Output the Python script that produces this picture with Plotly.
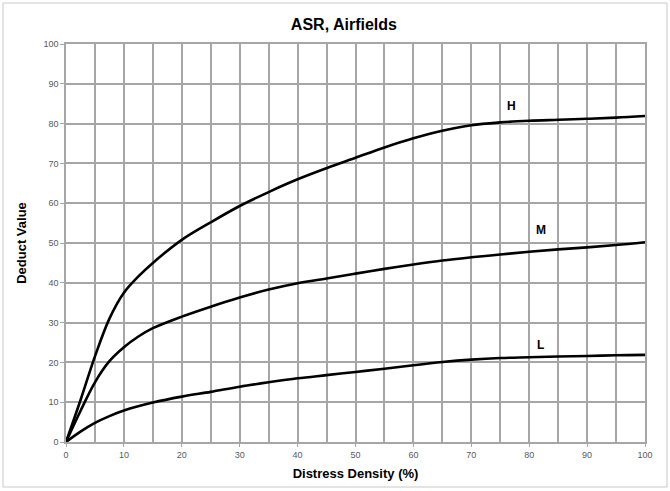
import plotly.graph_objects as go

# Deduct value curves for ASR (alkali-silica reaction) on airfield pavements
density_h = [0, 2.5, 5, 7.5, 10, 12.5, 15, 20, 25, 30, 35, 40, 45, 50, 55, 60, 65, 70, 75, 80, 85, 90, 95, 100]
deduct_h = [0, 10.5, 21.5, 31, 37.5, 41.6, 45, 50.8, 55.2, 59.3, 62.8, 66, 68.8, 71.4, 74, 76.3, 78.2, 79.6, 80.3, 80.7, 80.95, 81.2, 81.5, 81.9]

density_m = [0, 2.5, 5, 7.5, 10, 12.5, 15, 20, 25, 30, 35, 40, 45, 50, 55, 60, 65, 70, 75, 80, 85, 90, 95, 100]
deduct_m = [0, 7.8, 15, 20.3, 23.8, 26.5, 28.6, 31.5, 34, 36.3, 38.3, 39.9, 41.1, 42.3, 43.5, 44.6, 45.6, 46.4, 47.1, 47.8, 48.4, 48.9, 49.5, 50.2]

density_l = [0, 2.5, 5, 7.5, 10, 15, 20, 25, 30, 35, 40, 45, 50, 55, 60, 65, 70, 75, 80, 85, 90, 95, 100]
deduct_l = [0, 2.6, 4.8, 6.5, 7.9, 9.9, 11.4, 12.6, 13.9, 15, 16, 16.8, 17.6, 18.4, 19.3, 20.1, 20.7, 21.1, 21.3, 21.5, 21.6, 21.8, 21.9]

severity_labels = ["H", "M", "L"]
label_x = [77, 82, 82]
label_y = [84.5, 53.2, 24.4]

x_ticks = list(range(0, 101, 10))
y_ticks = list(range(0, 101, 10))

fig = go.Figure()
for xs, ys in [(density_h, deduct_h), (density_m, deduct_m), (density_l, deduct_l)]:
    fig.add_trace(go.Scatter(
        x=xs, y=ys, mode="lines", line_shape="spline",
        line=dict(color="black", width=2.6, smoothing=1.0),
        showlegend=False, hoverinfo="skip",
    ))

for txt, lx, ly in zip(severity_labels, label_x, label_y):
    fig.add_annotation(x=lx, y=ly, text=f"<b>{txt}</b>", showarrow=False,
                       font=dict(family="Liberation Sans, Arial", size=12, color="black"))

grid_col = "#a6a6a6"
fig.update_xaxes(
    range=[0, 100], tickvals=x_ticks, ticktext=[str(v) for v in x_ticks],
    showgrid=True, gridcolor=grid_col, gridwidth=1.5,
    minor=dict(dtick=5, showgrid=True, gridcolor=grid_col, gridwidth=1.5),
    showline=True, linecolor=grid_col, linewidth=1.5, mirror=True,
    ticks="outside", ticklen=3, tickcolor=grid_col, zeroline=False,
    tickfont=dict(family="Liberation Sans, Arial", size=9, color="#595959"),
    title=dict(text="<b>Distress Density (%)</b>", standoff=10,
               font=dict(family="Liberation Sans, Arial", size=13, color="black")),
)
fig.update_yaxes(
    range=[0, 100], tickvals=y_ticks, ticktext=[str(v) for v in y_ticks],
    showgrid=True, gridcolor=grid_col, gridwidth=1.5,
    showline=True, linecolor=grid_col, linewidth=1.5, mirror=True,
    ticks="outside", ticklen=4, tickcolor=grid_col, zeroline=False,
    tickfont=dict(family="Liberation Sans, Arial", size=9, color="#595959"),
    title=dict(text="<b>Deduct Value</b>", standoff=14,
               font=dict(family="Liberation Sans, Arial", size=13, color="black")),
)

fig.update_layout(
    width=670, height=491,
    margin=dict(l=66, r=25, t=44, b=49),
    paper_bgcolor="white", plot_bgcolor="white",
    title=dict(text="<b>ASR, Airfields</b>", x=0.48, xref="paper", xanchor="center",
               y=0.95, yanchor="middle",
               font=dict(family="Liberation Sans, Arial", size=16, color="black")),
    shapes=[dict(type="rect", xref="paper", yref="paper",
                 x0=-0.1088, x1=1.038, y0=-0.1131, y1=1.103,
                 line=dict(color="#c8c8c8", width=1))],
)

fig.write_html("out.html")
